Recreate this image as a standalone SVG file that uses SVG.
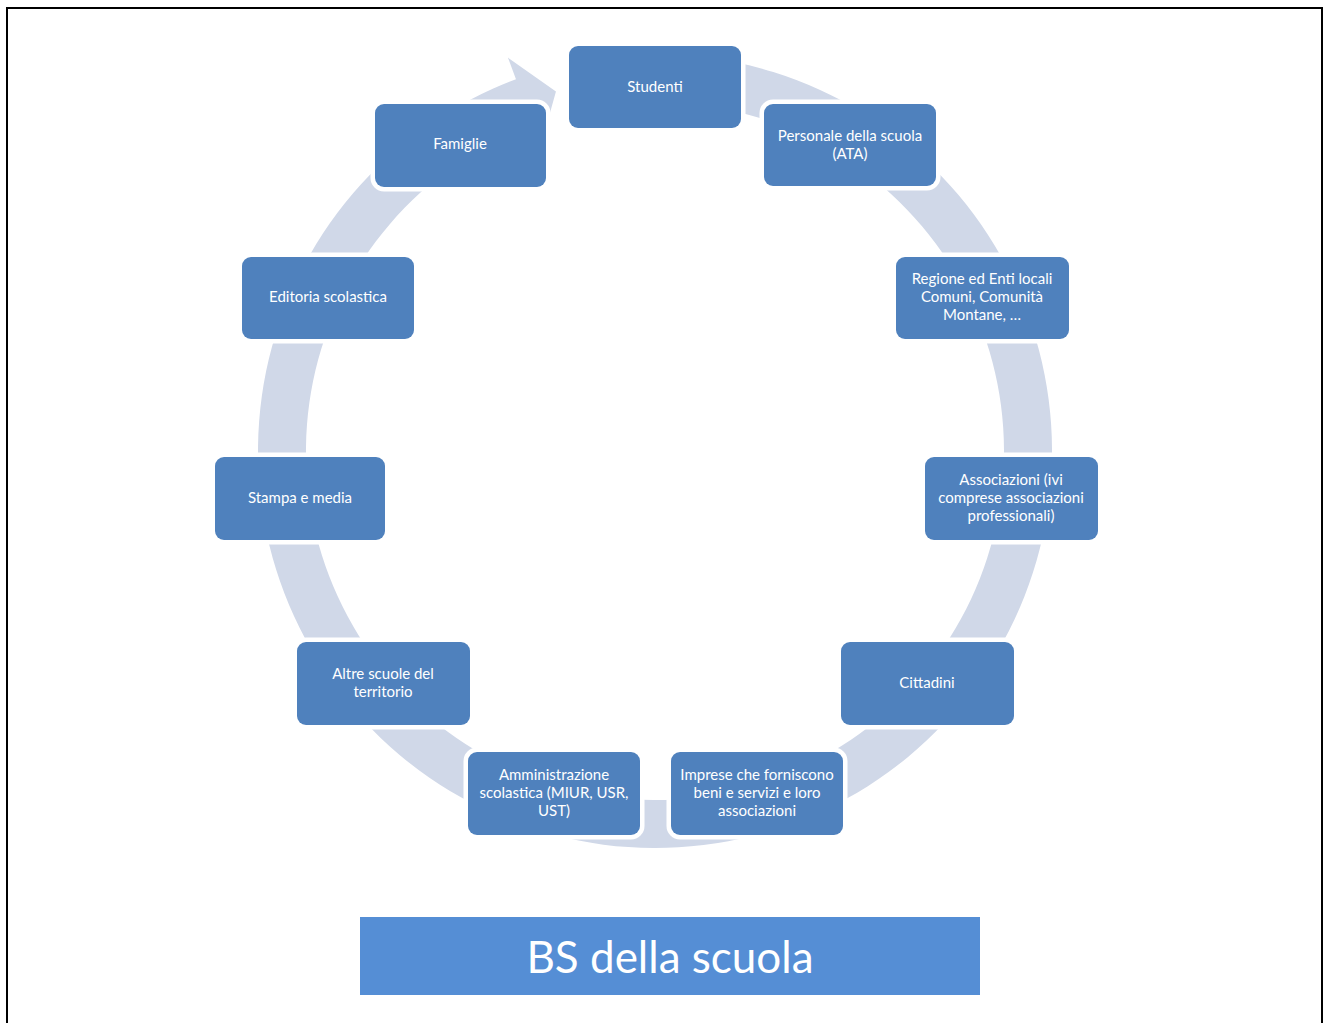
<svg xmlns="http://www.w3.org/2000/svg" width="1323" height="1023" viewBox="0 0 1323 1023">
<style>
.box{fill:#4f81bd;stroke:#ffffff;stroke-width:9;paint-order:stroke}
.lbl{font-family:Lato,"Open Sans","Liberation Sans",sans-serif;font-size:15px;fill:#ffffff;text-anchor:middle}
.title{font-family:Lato,"Open Sans","Liberation Sans",sans-serif;font-size:44px;fill:#ffffff;text-anchor:middle}
</style>
<rect x="0" y="0" width="1323" height="1023" fill="#ffffff"/>
<rect x="7" y="8" width="1315" height="1100" fill="none" stroke="#000000" stroke-width="2"/>
<g id="connectors">
<path d="M599.75,57.86 A397,397 0 1 1 515.97,79.14 L507.91,57.60 L555.95,91.39 L540.83,145.65 L532.78,124.10 A349,349 0 1 0 606.43,105.40 Z" fill="#d0d8e8"/>
</g>
<g id="n1"><rect class="box" x="569" y="46" width="172" height="82" rx="9"/><text class="lbl" x="655" y="92">Studenti</text></g>
<g id="n2"><rect class="box" x="764" y="104" width="172" height="82" rx="9"/><text class="lbl" x="850" y="141">Personale della scuola</text><text class="lbl" x="850" y="159">(ATA)</text></g>
<g id="n3"><rect class="box" x="896" y="257" width="173" height="82" rx="9"/><text class="lbl" x="982" y="284">Regione ed Enti locali</text><text class="lbl" x="982" y="302">Comuni, Comunità</text><text class="lbl" x="982" y="320">Montane, …</text></g>
<g id="n4"><rect class="box" x="925" y="457" width="173" height="83" rx="9"/><text class="lbl" x="1011" y="485">Associazioni (ivi</text><text class="lbl" x="1011" y="503">comprese associazioni</text><text class="lbl" x="1011" y="521">professionali)</text></g>
<g id="n5"><rect class="box" x="841" y="642" width="173" height="83" rx="9"/><text class="lbl" x="927" y="688">Cittadini</text></g>
<g id="n6"><rect class="box" x="671" y="752" width="172" height="83" rx="9"/><text class="lbl" x="757" y="780">Imprese che forniscono</text><text class="lbl" x="757" y="798">beni e servizi e loro</text><text class="lbl" x="757" y="816">associazioni</text></g>
<g id="n7"><rect class="box" x="468" y="752" width="172" height="83" rx="9"/><text class="lbl" x="554" y="780">Amministrazione</text><text class="lbl" x="554" y="798">scolastica (MIUR, USR,</text><text class="lbl" x="554" y="816">UST)</text></g>
<g id="n8"><rect class="box" x="297" y="642" width="173" height="83" rx="9"/><text class="lbl" x="383" y="679">Altre scuole del</text><text class="lbl" x="383" y="697">territorio</text></g>
<g id="n9"><rect class="box" x="215" y="457" width="170" height="83" rx="9"/><text class="lbl" x="300" y="503">Stampa e media</text></g>
<g id="n10"><rect class="box" x="242" y="257" width="172" height="82" rx="9"/><text class="lbl" x="328" y="302">Editoria scolastica</text></g>
<g id="n11"><rect class="box" x="375" y="104" width="171" height="83" rx="9"/><text class="lbl" x="460" y="149">Famiglie</text></g>
<g id="title"><rect x="360" y="917" width="620" height="78" fill="#558ed5"/><text class="title" x="670" y="973">BS della scuola</text></g>
</svg>
